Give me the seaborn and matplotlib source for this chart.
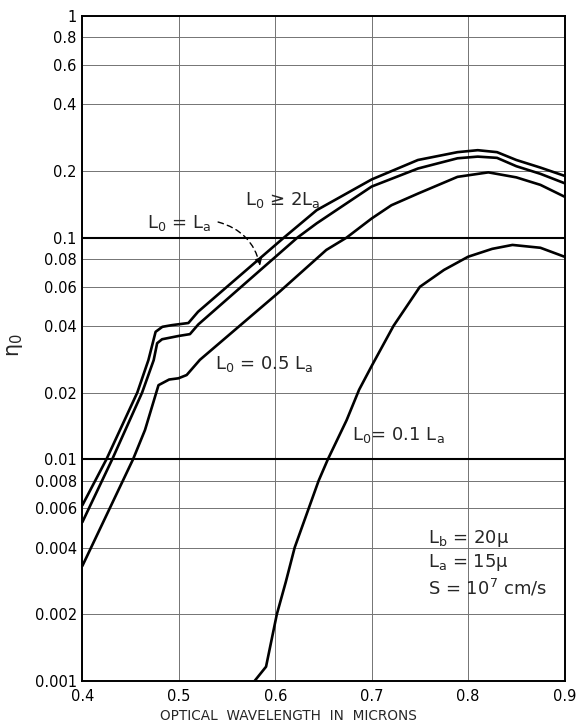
import matplotlib
matplotlib.use("Agg")
import matplotlib.pyplot as plt
import seaborn as sns
import pandas as pd

# ---- data ----
x_ge2 = [0.400, 0.425, 0.457, 0.4685, 0.476, 0.483, 0.493, 0.510, 0.520, 0.575,
         0.609, 0.643, 0.700, 0.748, 0.789, 0.810, 0.830, 0.850, 0.875, 0.900]
y_ge2 = [0.0062, 0.0100, 0.0200, 0.0280, 0.0376, 0.0396, 0.0403, 0.0412, 0.0463, 0.0745,
         0.1000, 0.1330, 0.1830, 0.2240, 0.2430, 0.2480, 0.2430, 0.2240, 0.2070, 0.1900]

x_eq1 = [0.400, 0.431, 0.462, 0.474, 0.4776, 0.4827, 0.4997, 0.5116, 0.5203, 0.583,
         0.623, 0.643, 0.700, 0.748, 0.789, 0.810, 0.830, 0.850, 0.875, 0.900]
y_eq1 = [0.0052, 0.0100, 0.0200, 0.0280, 0.0334, 0.0348, 0.0360, 0.0367, 0.0406, 0.0704,
         0.1000, 0.1160, 0.1700, 0.2050, 0.2280, 0.2320, 0.2290, 0.2100, 0.1940, 0.1760]

x_half = [0.400, 0.4526, 0.465, 0.479, 0.490, 0.4997, 0.5082, 0.5219, 0.6045, 0.653,
          0.674, 0.700, 0.7205, 0.748, 0.789, 0.821, 0.850, 0.875, 0.900]
y_half = [0.0033, 0.0100, 0.01356, 0.0216, 0.0229, 0.0232, 0.0240, 0.0281, 0.0570, 0.0880,
          0.1000, 0.1220, 0.1400, 0.1580, 0.1880, 0.1970, 0.1870, 0.1730, 0.1530]

x_tenth = [0.5786, 0.5905, 0.6017, 0.611, 0.6202, 0.6347, 0.645, 0.6546, 0.674, 0.687,
           0.7005, 0.7227, 0.750, 0.775, 0.800, 0.825, 0.846, 0.875, 0.900]
y_tenth = [0.0010, 0.00116, 0.0020, 0.0028, 0.0040, 0.0060, 0.0080, 0.0100, 0.0150, 0.0206,
           0.0266, 0.0400, 0.0600, 0.0715, 0.0820, 0.0890, 0.0927, 0.0900, 0.0820]

curve_names = ["L0>=2La", "L0=La", "L0=0.5La", "L0=0.1La"]

x_ticks = [0.4, 0.5, 0.6, 0.7, 0.8, 0.9]
x_ticklabels = ["0.4", "0.5", "0.6", "0.7", "0.8", "0.9"]
y_ticks = [0.001, 0.002, 0.004, 0.006, 0.008, 0.01, 0.02, 0.04, 0.06, 0.08,
           0.1, 0.2, 0.4, 0.6, 0.8, 1.0]
y_ticklabels = ["0.001", "0.002", "0.004", "0.006", "0.008", "0.01", "0.02", "0.04",
                "0.06", "0.08", "0.1", "0.2", "0.4", "0.6", "0.8", "1"]
emphasis_levels = [0.01, 0.1]

# ---- build long-form table ----
frames = []
for name, xs, ys in zip(curve_names,
                        [x_ge2, x_eq1, x_half, x_tenth],
                        [y_ge2, y_eq1, y_half, y_tenth]):
    frames.append(pd.DataFrame({"wavelength": xs, "eta": ys, "curve": name}))
df = pd.concat(frames, ignore_index=True)

sns.set_style("white")
plt.rcParams["font.family"] = ["DejaVu Sans"]
plt.rcParams["mathtext.default"] = "regular"

fig = plt.figure(figsize=(5.76, 7.22), dpi=100)
ax = fig.add_axes([0.1429, 0.0568, 0.8372, 0.9211])

ax.set_yscale("log")
ax.set_xlim(0.4, 0.9)
ax.set_ylim(0.001, 1.0)

# grid
for yv in y_ticks:
    ax.axhline(yv, color="0.45", lw=0.7, zorder=1)
for xv in x_ticks:
    ax.axvline(xv, color="0.45", lw=0.7, zorder=1)
for yv in emphasis_levels:
    ax.axhline(yv, color="black", lw=1.5, zorder=2)

sns.lineplot(data=df, x="wavelength", y="eta", hue="curve", units="curve",
             estimator=None, sort=False, palette=["black"] * 4, legend=False,
             lw=1.9, ax=ax, zorder=3)

ax.set_xticks(x_ticks)
ax.set_xticklabels(x_ticklabels)
ax.set_yticks(y_ticks)
ax.set_yticklabels(y_ticklabels)
ax.minorticks_off()
ax.tick_params(axis="both", length=0, labelsize=10.5, colors="black")
ax.tick_params(axis="x", pad=6)
ax.tick_params(axis="y", pad=4)

for sp in ax.spines.values():
    sp.set_visible(True)
    sp.set_color("black")
    sp.set_linewidth(1.4)

ax.set_xlabel("OPTICAL  WAVELENGTH  IN  MICRONS", fontsize=9.8)
ax.xaxis.set_label_coords(0.428, -0.0415)
ax.xaxis.label.set_va("top")
ax.set_ylabel(r"$\eta_0$", fontsize=15)
ax.yaxis.set_label_coords(-0.118, 0.505)

fs = 13
ax.text(0.5688, 0.140, r"L$_0$ ≥ 2L$_a$", fontsize=fs, ha="left", va="baseline")
ax.text(0.467, 0.110, r"L$_0$ = L$_a$", fontsize=fs, ha="left", va="baseline")
ax.text(0.5376, 0.0255, r"L$_0$ = 0.5 L$_a$", fontsize=fs, ha="left", va="baseline")
ax.text(0.680, 0.0122, r"L$_0$= 0.1 L$_a$", fontsize=fs, ha="left", va="baseline")

ax.annotate("", xy=(0.5843, 0.0745), xytext=(0.5408, 0.1176),
            arrowprops=dict(arrowstyle="-|>", color="black", lw=1.0,
                            linestyle=(0, (4, 3)), mutation_scale=10,
                            connectionstyle="arc3,rad=-0.3",
                            shrinkA=0, shrinkB=0))

ax.text(0.7586, 10 ** (-3 + (681 - 543) / 221.7), r"L$_b$ = 20μ", fontsize=fs,
        ha="left", va="baseline")
ax.text(0.7586, 10 ** (-3 + (681 - 567) / 221.7), r"L$_a$ = 15μ", fontsize=fs,
        ha="left", va="baseline")
ax.text(0.7586, 10 ** (-3 + (681 - 595) / 221.7), r"S = 10$^7$ cm/s", fontsize=fs,
        ha="left", va="baseline")

fig.savefig("out.png", dpi=100)
